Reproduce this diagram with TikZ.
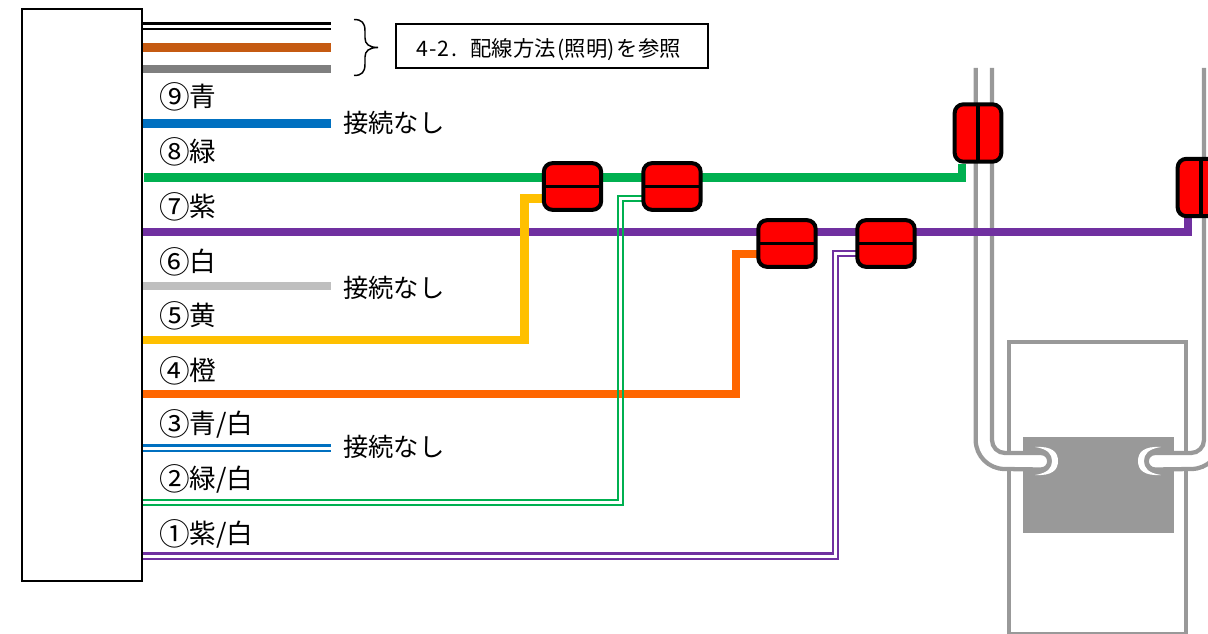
\documentclass[tikz,border=0pt]{standalone}
\usepackage{fontspec}
\setmainfont{Noto Sans CJK JP}
\usetikzlibrary{positioning,backgrounds}

\definecolor{wirebrown}{HTML}{C55A11}
\definecolor{wiregray}{HTML}{7F7F7F}
\definecolor{wireblue}{HTML}{0070C0}
\definecolor{wiregreen}{HTML}{00B050}
\definecolor{wirepurple}{HTML}{7030A0}
\definecolor{wiresilver}{HTML}{BFBFBF}
\definecolor{wireyellow}{HTML}{FFC000}
\definecolor{wireorange}{HTML}{FF6600}
\definecolor{lampgray}{HTML}{999999}

\newcommand{\wirenum}[1]{{\fontsize{23}{22}\selectfont\raisebox{-0.06em}{#1}}}

\begin{document}
\begin{tikzpicture}[
    x=0.75pt, y=-0.75pt,
    every node/.style={inner sep=0pt, outer sep=0pt},
    wire/.style={line width=6.2pt},
    strand/.style={line width=2pt},
    wirelabel/.style={font=\fontsize{20}{22}\selectfont, anchor=west},
    nolink/.style={font=\fontsize{19}{22}\selectfont, anchor=west},
    joint/.style={draw=black, line width=3pt, fill=red, rounded corners=6.5pt, minimum width=43pt, minimum height=35pt},
    jointv/.style={joint, minimum width=35pt, minimum height=43pt},
    divider/.style={black, line width=2.6pt},
    tube/.style={draw=lampgray, fill=white, line width=3.2pt},
    halo/.style={fill=white, draw=none}
]
    \useasboundingbox (0,0) rectangle (1208,634);

    % harness box and wire ends
    \node[draw=black, line width=1.5pt, minimum width=90pt, minimum height=429pt, anchor=north west] (ecu) at (21.5,9.5) {};
    \coordinate (ecuAa) at (142,23.5);
    \coordinate (ecuAb) at (142,29);
    \coordinate (ecuB) at (142,47.5);
    \coordinate (ecuC) at (142,69);
    \coordinate (ecu9) at (142,123.5);
    \coordinate (ecu8) at (144,177.5);
    \coordinate (ecu7) at (142,232);
    \coordinate (ecu6) at (142,286);
    \coordinate (ecu5) at (142,340);
    \coordinate (ecu4) at (142,394);
    \coordinate (ecu3a) at (142,445.5);
    \coordinate (ecu3b) at (142,451);
    \coordinate (ecu2a) at (142,500);
    \coordinate (ecu2b) at (142,505);
    \coordinate (ecu1a) at (142,553.5);
    \coordinate (ecu1b) at (142,559);
    \coordinate (endAa) at (331,23.5);
    \coordinate (endAb) at (331,29);
    \coordinate (endB) at (331,47.5);
    \coordinate (endC) at (331,69);
    \coordinate (end9) at (331,123.5);
    \coordinate (end6) at (331,286);
    \coordinate (end3a) at (331,445.5);
    \coordinate (end3b) at (331,451);
    \coordinate (bendY) at (524.5,198.5);
    \coordinate (bendGa) at (618,196);
    \coordinate (bendGb) at (623,201);
    \coordinate (bendO) at (736,254);
    \coordinate (bendPa) at (833,251);
    \coordinate (bendPb) at (838,256);
    \coordinate (bendGm) at (962,164);
    \coordinate (bendPm) at (1188,218);

    % red joints
    \node[joint] (jointY) at (572.5,186.5) {};
    \node[joint] (jointG) at (672,186.5) {};
    \node[joint] (jointO) at (787,243.5) {};
    \node[joint] (jointP) at (886,243.5) {};
    \node[jointv] (jointGm) at (978,133) {};
    \node[jointv] (jointPm) at (1201,187.5) {};
    \draw[divider] (jointY.west) -- (jointY.east);
    \draw[divider] (jointG.west) -- (jointG.east);
    \draw[divider] (jointO.west) -- (jointO.east);
    \draw[divider] (jointP.west) -- (jointP.east);
    \draw[divider] (jointGm.north) -- (jointGm.south);
    \draw[divider] (jointPm.north) -- (jointPm.south);

    \begin{scope}[on background layer]
        % lamp
        \node[draw=lampgray, line width=3.2pt, minimum width=133pt, minimum height=219pt, anchor=north west] (frame) at (1009,342) {};
        \node[fill=lampgray, minimum width=113pt, minimum height=72pt, anchor=north west] (plate) at (1023,437) {};
        \fill[halo] (1035,447) .. controls (1052,446) and (1058,452) .. (1058,461) .. controls (1058,470) and (1052,476) .. (1035,475) .. controls (1048,473) and (1052,468) .. (1052,461) .. controls (1052,454) and (1048,449) .. (1035,447);
        \fill[halo] (1161,447) .. controls (1144,446) and (1138,452) .. (1138,461) .. controls (1138,470) and (1144,476) .. (1161,475) .. controls (1148,473) and (1144,468) .. (1144,461) .. controls (1144,454) and (1148,449) .. (1161,447);
        \draw[tube] (975.7,68) -- (975.7,440) arc[start angle=180, end angle=90, radius=29] -- (1041,469.5) arc[start angle=90, end angle=-90, radius=8.25] -- (1005,453) arc[start angle=90, end angle=180, radius=13] -- (992,68);
        \draw[tube] (1220.3,68) -- (1220.3,440) arc[start angle=0, end angle=90, radius=29] -- (1155,469.5) arc[start angle=90, end angle=270, radius=8.25] -- (1191,453) arc[start angle=90, end angle=0, radius=13] -- (1204,68);

        % wires
        \draw[strand, black] (ecuAa) -- (endAa);
        \draw[strand, black] (ecuAb) -- (endAb);
        \draw[wire, wirebrown] (ecuB) -- (endB);
        \draw[wire, wiregray] (ecuC) -- (endC);
        \draw[wire, wireblue] (ecu9) -- (end9);
        \draw[wire, wiresilver] (ecu6) -- (end6);
        \draw[strand, wireblue] (ecu3a) -- (end3a);
        \draw[strand, wireblue] (ecu3b) -- (end3b);
        \draw[wire, wiregreen] (ecu8) -| (bendGm);
        \draw[wire, wirepurple] (ecu7) -| (bendPm);
        \draw[wire, wireyellow] (ecu5) -| (bendY) -- (bendY -| jointY.center);
        \draw[wire, wireorange] (ecu4) -| (bendO) -- (bendO -| jointO.center);
        \draw[strand, wiregreen] (ecu2a) -| (bendGa) -- (bendGa -| jointG.center);
        \draw[strand, wiregreen] (ecu2b) -| (bendGb) -- (bendGb -| jointG.center);
        \draw[strand, wirepurple] (ecu1a) -| (bendPa) -- (bendPa -| jointP.center);
        \draw[strand, wirepurple] (ecu1b) -| (bendPb) -- (bendPb -| jointP.center);
    \end{scope}

    % brace and note
    \draw[line width=1.1pt] (354,19.5) .. controls (362,19.5) and (365,23) .. (365,31) -- (365,38) .. controls (365,44) and (369,47.5) .. (378,47.5) .. controls (369,47.5) and (365,51) .. (365,57) -- (365,64) .. controls (365,72) and (362,75.5) .. (354,75.5);
    \node[draw=black, line width=1.2pt, minimum width=234pt, minimum height=33pt, anchor=north west] (note) at (396,24) {};
    \node[font=\fontsize{16}{18}\selectfont, anchor=west] (notetext) at (416,49.5) {4\kern1pt-\kern1pt2\kern1pt.\kern10pt配線方法\kern1.5pt(照明)\kern1.5ptを参照};

    % labels
    \node[wirelabel] (lab9) at (159,97) {\wirenum{⑨}青};
    \node[wirelabel] (lab8) at (159,152) {\wirenum{⑧}緑};
    \node[wirelabel] (lab7) at (159,207) {\wirenum{⑦}紫};
    \node[wirelabel] (lab6) at (159,262) {\wirenum{⑥}白};
    \node[wirelabel] (lab5) at (159,316) {\wirenum{⑤}黄};
    \node[wirelabel] (lab4) at (159,371) {\wirenum{④}橙};
    \node[wirelabel] (lab3) at (159,424) {\wirenum{③}青/白};
    \node[wirelabel] (lab2) at (159,479) {\wirenum{②}緑/白};
    \node[wirelabel] (lab1) at (159,534) {\wirenum{①}紫/白};
    \node[nolink] (none9) at (343,123) {接続なし};
    \node[nolink] (none6) at (343,288) {接続なし};
    \node[nolink] (none3) at (343,447) {接続なし};
\end{tikzpicture}
\end{document}
